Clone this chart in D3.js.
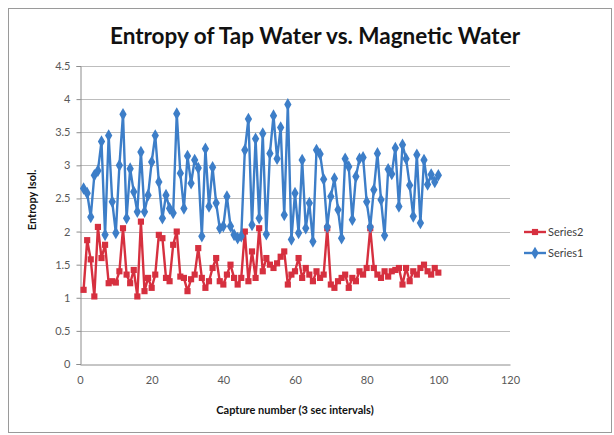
<!DOCTYPE html>
<html><head><meta charset="utf-8">
<script src="https://cdn.jsdelivr.net/npm/d3@7"></script>
<style>body{margin:0;background:#fff}svg{display:block}</style>
</head><body><svg id="c" width="614" height="435"></svg>
<script>
const titleText = "Entropy of Tap Water vs. Magnetic Water";
const xTitle = "Capture number (3 sec intervals)";
const yTitle = "Entropy Isol.";
const xTicks = [0, 20, 40, 60, 80, 100, 120];
const yTicks = [0, 0.5, 1, 1.5, 2, 2.5, 3, 3.5, 4, 4.5];
const seriesNames = ["Series2", "Series1"];
const series1 = [2.65,2.58,2.22,2.85,2.92,3.36,1.95,3.45,2.45,1.98,
  3.0,3.77,2.2,2.95,2.6,2.3,3.2,2.3,2.55,3.05,
  3.45,2.75,2.2,2.55,2.35,2.28,3.78,2.88,2.35,3.14,
  2.73,3.08,2.96,1.93,3.25,2.38,2.97,2.43,2.05,2.08,
  2.53,2.08,1.95,1.9,1.93,3.23,3.7,2.1,3.4,2.2,
  3.48,1.96,3.18,3.75,3.1,3.57,2.25,3.92,1.88,2.58,
  1.98,3.08,2.05,2.43,1.85,3.23,3.17,2.79,2.07,2.53,
  2.8,2.33,1.9,3.1,2.98,2.18,2.83,3.1,3.12,2.45,
  2.07,2.63,3.18,2.48,1.94,2.94,2.87,3.26,2.38,3.31,
  3.1,2.7,2.23,3.16,2.13,3.08,2.71,2.86,2.75,2.85];
const series2 = [1.12,1.87,1.58,1.02,2.07,1.6,1.8,1.22,1.25,1.23,
  1.4,2.05,1.35,1.22,1.42,1.02,2.15,1.1,1.3,1.15,
  1.35,1.95,1.9,1.3,1.25,1.8,2.0,1.32,1.3,1.1,
  1.28,1.35,1.75,1.3,1.15,1.25,1.45,1.6,1.25,1.2,
  1.35,1.5,1.3,1.2,1.3,2.0,1.25,1.7,1.3,2.05,
  1.4,1.6,1.5,1.45,1.52,1.62,1.7,1.2,1.35,1.4,
  1.6,1.3,1.45,1.35,1.25,1.4,1.3,1.35,2.05,1.2,
  1.15,1.25,1.3,1.35,1.15,1.3,1.25,1.4,1.35,1.45,
  2.05,1.45,1.35,1.3,1.4,1.32,1.4,1.42,1.45,1.2,
  1.45,1.25,1.4,1.35,1.45,1.5,1.4,1.35,1.45,1.38];

const blue = "#3d7ec8", red = "#d6303f";
const svg = d3.select("#c");
const font = "Lato, 'Open Sans', sans-serif";

svg.append("rect").attr("x",8.5).attr("y",8.5).attr("width",603).attr("height",424)
  .attr("fill","#fff").attr("stroke","#9a9a9a");

const m = {l:80, r:510, t:66, b:364};
const x = d3.scaleLinear().domain([0,120]).range([m.l, m.r]);
const y = d3.scaleLinear().domain([0,4.5]).range([m.b, m.t]);

// gridlines
svg.append("g").selectAll("line").data(yTicks.slice(1)).join("line")
  .attr("x1",m.l).attr("x2",m.r).attr("y1",d=>Math.round(y(d))+0.5).attr("y2",d=>Math.round(y(d))+0.5)
  .attr("stroke","#bdbdbd").attr("stroke-width",1);

// axes
const yAxis = svg.append("g").attr("transform",`translate(${m.l+0.5},0)`)
  .call(d3.axisLeft(y).tickValues(yTicks).tickFormat(d3.format("")).tickSize(4).tickPadding(6));
const xAxis = svg.append("g").attr("transform",`translate(0,${m.b+0.5})`)
  .call(d3.axisBottom(x).tickValues(xTicks).tickSize(0).tickPadding(12));
[yAxis,xAxis].forEach(a=>{
  a.select(".domain").attr("stroke","#8c8c8c");
  a.selectAll(".tick line").attr("stroke","#8c8c8c");
  a.selectAll("text").attr("fill","#595959").style("font-family",font).style("font-size","11px");
});

// lines
const line = d3.line().x((d,i)=>x(i+1)).y(d=>y(d));
const diamond = d3.symbol().type(d3.symbolDiamond).size(46);
const square = d3.symbol().type(d3.symbolSquare).size(38);

svg.append("path").datum(series2).attr("d",line).attr("fill","none")
  .attr("stroke",red).attr("stroke-width",2.4).attr("stroke-linejoin","round");
svg.append("g").selectAll("path").data(series2).join("path")
  .attr("d",square).attr("transform",(d,i)=>`translate(${x(i+1)},${y(d)})`).attr("fill",red);

svg.append("path").datum(series1).attr("d",line).attr("fill","none")
  .attr("stroke",blue).attr("stroke-width",2.4).attr("stroke-linejoin","round");
svg.append("g").selectAll("path").data(series1).join("path")
  .attr("d",diamond).attr("transform",(d,i)=>`translate(${x(i+1)},${y(d)})`).attr("fill",blue);

// title
svg.append("text").attr("x",315).attr("y",44).attr("text-anchor","middle")
  .style("font-family",font).style("font-weight","bold").style("font-size","22.5px").attr("fill","#111")
  .text(titleText);
svg.append("text").attr("x",295).attr("y",414).attr("text-anchor","middle")
  .style("font-family",font).style("font-weight","bold").style("font-size","11px").attr("fill","#111")
  .text(xTitle);
svg.append("text").attr("transform","translate(36,200) rotate(-90)").attr("text-anchor","middle")
  .style("font-family",font).style("font-weight","bold").style("font-size","11px").attr("fill","#111")
  .text(yTitle);

// legend
const legColors = [red, blue];
const legSyms = [square, diamond];
const leg = svg.append("g").selectAll("g").data(seriesNames).join("g")
  .attr("transform",(d,i)=>`translate(524,${232 + i*21})`);
leg.append("line").attr("x1",0).attr("x2",22).attr("stroke",(d,i)=>legColors[i]).attr("stroke-width",2.4);
leg.append("path").attr("d",(d,i)=>legSyms[i]()).attr("transform","translate(11,0)").attr("fill",(d,i)=>legColors[i]);
leg.append("text").attr("x",24).attr("y",4).text(d=>d)
  .style("font-family",font).style("font-size","11px").attr("fill","#404040");
</script></body></html>
